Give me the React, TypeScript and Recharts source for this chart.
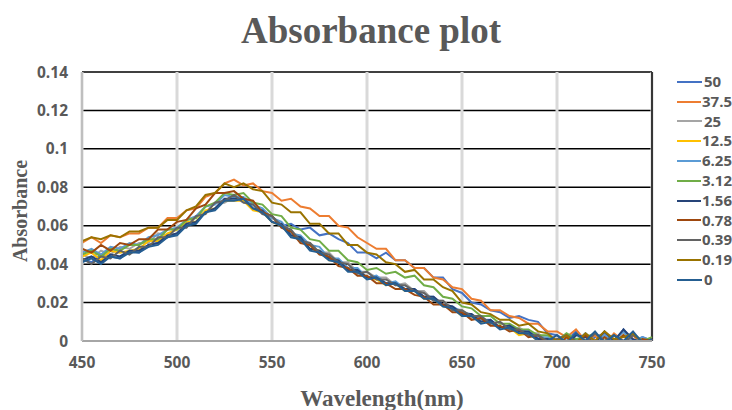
import { LineChart, Line, XAxis, YAxis, CartesianGrid, Legend, ReferenceLine } from "recharts";

const wavelengths = [
  450, 455, 460, 465, 470, 475, 480, 485, 490, 495,
  500, 505, 510, 515, 520, 525, 530, 535, 540, 545,
  550, 555, 560, 565, 570, 575, 580, 585, 590, 595,
  600, 605, 610, 615, 620, 625, 630, 635, 640, 645,
  650, 655, 660, 665, 670, 675, 680, 685, 690, 695,
  700, 705, 710, 715, 720, 725, 730, 735, 740, 745,
  750,
];

const concentrations = ["50", "37.5", "25", "12.5", "6.25", "3.12", "1.56", "0.78", "0.39", "0.19", "0"];
const colors = ["#4472C4", "#ED7D31", "#A5A5A5", "#FFC000", "#5B9BD5", "#70AD47", "#264478", "#9E480E", "#636363", "#997300", "#255E91"];

const s50 = [
  0.043, 0.041, 0.045, 0.044, 0.043, 0.047, 0.046, 0.050, 0.051, 0.054,
  0.056, 0.060, 0.062, 0.067, 0.069, 0.073, 0.076, 0.073, 0.072, 0.067,
  0.065, 0.060, 0.061, 0.058, 0.059, 0.055, 0.056, 0.053, 0.051, 0.046,
  0.046, 0.043, 0.046, 0.042, 0.042, 0.038, 0.038, 0.033, 0.033, 0.027,
  0.025, 0.020, 0.019, 0.016, 0.015, 0.012, 0.013, 0.011, 0.010, 0.004,
  0.003, 0.000, 0.005, -0.002, 0.002, 0.004, -0.001, 0.006, 0.000, 0.002,
  0.000,
];
const s37_5 = [
  0.051, 0.054, 0.051, 0.055, 0.054, 0.056, 0.056, 0.059, 0.059, 0.064,
  0.064, 0.068, 0.069, 0.075, 0.077, 0.082, 0.084, 0.081, 0.082, 0.078,
  0.077, 0.073, 0.074, 0.070, 0.069, 0.065, 0.065, 0.060, 0.059, 0.054,
  0.051, 0.048, 0.048, 0.042, 0.042, 0.038, 0.038, 0.033, 0.032, 0.028,
  0.027, 0.022, 0.021, 0.016, 0.016, 0.013, 0.012, 0.009, 0.009, 0.005,
  0.005, 0.002, 0.006, 0.000, 0.003, -0.002, 0.004, 0.000, 0.003, -0.002,
  0.001,
];
const s25 = [
  0.045, 0.043, 0.047, 0.045, 0.049, 0.048, 0.051, 0.051, 0.056, 0.055,
  0.059, 0.060, 0.065, 0.067, 0.072, 0.072, 0.075, 0.072, 0.071, 0.066,
  0.065, 0.059, 0.057, 0.052, 0.051, 0.046, 0.046, 0.041, 0.041, 0.036,
  0.036, 0.033, 0.033, 0.029, 0.030, 0.026, 0.026, 0.021, 0.021, 0.017,
  0.016, 0.012, 0.013, 0.009, 0.010, 0.006, 0.007, 0.004, 0.004, 0.000,
  -0.002, 0.003, -0.001, 0.004, 0.000, 0.003, -0.001, 0.004, 0.001, -0.001,
  0.001,
];
const s12_5 = [
  0.044, 0.046, 0.042, 0.047, 0.046, 0.047, 0.048, 0.052, 0.052, 0.056,
  0.058, 0.062, 0.062, 0.068, 0.069, 0.073, 0.073, 0.073, 0.068, 0.067,
  0.062, 0.060, 0.055, 0.053, 0.048, 0.047, 0.042, 0.042, 0.037, 0.037,
  0.033, 0.032, 0.029, 0.030, 0.026, 0.026, 0.022, 0.022, 0.018, 0.017,
  0.013, 0.013, 0.010, 0.010, 0.007, 0.007, 0.003, 0.004, 0.000, 0.001,
  -0.003, 0.002, -0.002, 0.003, -0.001, 0.002, -0.002, 0.003, -0.001, 0.001,
  -0.001,
];
const s6_25 = [
  0.046, 0.048, 0.045, 0.049, 0.048, 0.051, 0.050, 0.054, 0.055, 0.058,
  0.059, 0.063, 0.065, 0.070, 0.071, 0.076, 0.075, 0.075, 0.071, 0.069,
  0.064, 0.062, 0.056, 0.055, 0.050, 0.049, 0.043, 0.043, 0.038, 0.038,
  0.033, 0.034, 0.030, 0.031, 0.027, 0.027, 0.023, 0.023, 0.018, 0.018,
  0.015, 0.014, 0.011, 0.011, 0.007, 0.008, 0.005, 0.005, 0.002, 0.002,
  -0.001, 0.003, 0.000, 0.004, -0.001, 0.003, 0.000, 0.005, -0.001, 0.002,
  0.000,
];
const s3_12 = [
  0.045, 0.047, 0.044, 0.048, 0.047, 0.050, 0.050, 0.053, 0.053, 0.058,
  0.058, 0.063, 0.064, 0.070, 0.072, 0.077, 0.076, 0.077, 0.072, 0.071,
  0.066, 0.065, 0.059, 0.058, 0.053, 0.052, 0.047, 0.047, 0.042, 0.041,
  0.037, 0.038, 0.035, 0.036, 0.033, 0.034, 0.029, 0.028, 0.023, 0.022,
  0.018, 0.017, 0.013, 0.013, 0.009, 0.009, 0.006, 0.006, 0.003, 0.003,
  0.000, 0.004, 0.001, 0.002, 0.004, 0.000, 0.003, -0.001, 0.004, 0.000,
  0.002,
];
const s1_56 = [
  0.042, 0.044, 0.041, 0.045, 0.044, 0.047, 0.047, 0.050, 0.051, 0.055,
  0.056, 0.061, 0.062, 0.067, 0.069, 0.074, 0.074, 0.074, 0.069, 0.068,
  0.062, 0.061, 0.055, 0.054, 0.048, 0.047, 0.043, 0.042, 0.037, 0.037,
  0.033, 0.033, 0.030, 0.030, 0.027, 0.027, 0.023, 0.023, 0.019, 0.018,
  0.014, 0.014, 0.010, 0.011, 0.007, 0.008, 0.005, 0.005, 0.001, 0.001,
  0.000, -0.002, 0.003, 0.002, -0.001, 0.005, 0.000, 0.006, 0.001, -0.001,
  0.001,
];
const s0_78 = [
  0.048, 0.046, 0.050, 0.047, 0.051, 0.050, 0.053, 0.053, 0.058, 0.058,
  0.062, 0.063, 0.069, 0.071, 0.077, 0.077, 0.078, 0.074, 0.073, 0.067,
  0.065, 0.059, 0.057, 0.051, 0.050, 0.045, 0.044, 0.039, 0.038, 0.034,
  0.034, 0.030, 0.030, 0.027, 0.027, 0.024, 0.023, 0.019, 0.019, 0.015,
  0.015, 0.011, 0.012, 0.008, 0.008, 0.005, 0.006, 0.002, 0.003, -0.001,
  -0.003, 0.002, -0.001, 0.003, -0.002, 0.002, -0.001, 0.003, -0.002, 0.001,
  0.000,
];
const s0_39 = [
  0.043, 0.040, 0.044, 0.043, 0.047, 0.045, 0.049, 0.049, 0.054, 0.054,
  0.059, 0.059, 0.065, 0.066, 0.072, 0.073, 0.076, 0.072, 0.071, 0.066,
  0.065, 0.060, 0.058, 0.052, 0.051, 0.046, 0.045, 0.041, 0.040, 0.035,
  0.036, 0.032, 0.032, 0.029, 0.029, 0.026, 0.025, 0.021, 0.021, 0.016,
  0.016, 0.013, 0.013, 0.009, 0.010, 0.006, 0.006, 0.003, 0.003, 0.000,
  0.001, 0.003, 0.000, -0.001, 0.004, 0.000, 0.003, -0.001, 0.003, 0.000,
  0.000,
];
const s0_19 = [
  0.052, 0.054, 0.053, 0.055, 0.054, 0.057, 0.057, 0.059, 0.059, 0.063,
  0.063, 0.068, 0.070, 0.076, 0.077, 0.082, 0.080, 0.082, 0.079, 0.078,
  0.072, 0.071, 0.067, 0.067, 0.061, 0.061, 0.056, 0.056, 0.050, 0.050,
  0.046, 0.045, 0.041, 0.040, 0.036, 0.037, 0.032, 0.032, 0.028, 0.026,
  0.020, 0.019, 0.015, 0.014, 0.011, 0.011, 0.008, 0.009, 0.005, 0.004,
  0.000, 0.003, -0.001, 0.004, 0.000, 0.005, 0.001, 0.002, 0.004, -0.001,
  0.001,
];
const s0 = [
  0.041, 0.043, 0.040, 0.044, 0.043, 0.046, 0.046, 0.049, 0.050, 0.054,
  0.055, 0.060, 0.061, 0.067, 0.068, 0.073, 0.073, 0.074, 0.069, 0.067,
  0.062, 0.060, 0.054, 0.053, 0.047, 0.046, 0.042, 0.041, 0.036, 0.036,
  0.032, 0.033, 0.029, 0.030, 0.026, 0.026, 0.022, 0.022, 0.018, 0.017,
  0.013, 0.013, 0.009, 0.010, 0.006, 0.007, 0.004, 0.004, 0.000, 0.000,
  0.003, -0.001, 0.004, 0.000, 0.005, -0.001, 0.003, 0.000, 0.005, -0.001,
  0.001,
];

const seriesValues = [s50, s37_5, s25, s12_5, s6_25, s3_12, s1_56, s0_78, s0_39, s0_19, s0];

const xTicks = [450, 500, 550, 600, 650, 700, 750];
const yTicks = [0, 0.02, 0.04, 0.06, 0.08, 0.1, 0.12, 0.14];

const data = wavelengths.map((wl, i) => {
  const row: Record<string, number> = { wl };
  seriesValues.forEach((vals, k) => {
    row["c" + k] = vals[i];
  });
  return row;
});

const labelColor = "#595959";
const tickFont = { fill: labelColor, fontSize: 15.5, fontWeight: 700, fontFamily: "'Open Sans', sans-serif" };

// keep the legend in series order (recharts sorts it by name otherwise)
function LegendList(props: any) {
  const items = [...(props.payload || [])].sort(
    (a: any, b: any) => concentrations.indexOf(a.value) - concentrations.indexOf(b.value)
  );
  return (
    <div style={{ fontFamily: "'Open Sans', sans-serif", fontWeight: 700, fontSize: 15, color: labelColor }}>
      {items.map((p: any) => (
        <div key={p.value} style={{ height: 19.8, display: "flex", alignItems: "center" }}>
          <svg width={26} height={4} style={{ marginRight: 1 }}>
            <line x1={0} y1={2} x2={25} y2={2} stroke={p.color} strokeWidth={2} />
          </svg>
          <span style={{ lineHeight: "19.8px" }}>{p.value}</span>
        </div>
      ))}
    </div>
  );
}

export default function App() {
  return (
    <div style={{ position: "absolute", left: 0, top: 0, width: 732, height: 410, background: "#fff" }}>
      <LineChart width={732} height={410} data={data} margin={{ top: 72, right: 80, bottom: 39, left: 20 }}>
        <CartesianGrid vertical={false} stroke="#000" strokeWidth={1.5} />
        <CartesianGrid horizontal={false} stroke="#d9d9d9" strokeWidth={3} />
        <XAxis
          dataKey="wl"
          type="number"
          domain={[450, 750]}
          ticks={xTicks}
          tick={tickFont}
          tickLine={false}
          tickSize={6}
          tickMargin={10}
          axisLine={{ stroke: "#a6a6a6", strokeWidth: 2 }}
          height={30}
        />
        <YAxis
          type="number"
          domain={[0, 0.14]}
          ticks={yTicks}
          allowDataOverflow
          tick={tickFont}
          tickFormatter={(v: number) => String(v)}
          tickLine={false}
          tickSize={6}
          tickMargin={8}
          axisLine={{ stroke: "#bfbfbf", strokeWidth: 2 }}
          width={62}
        />
        <ReferenceLine x={750} stroke="#000" strokeWidth={1.5} />
        <Legend
          layout="vertical"
          align="center"
          verticalAlign="middle"
          content={LegendList}
          wrapperStyle={{ left: 677, top: 72, width: 55 }}
        />
        {concentrations.map((c, k) => (
          <Line
            key={c}
            type="linear"
            dataKey={"c" + k}
            name={c}
            stroke={colors[k]}
            strokeWidth={2}
            dot={false}
            activeDot={false}
            isAnimationActive={false}
          />
        ))}
      </LineChart>
      <svg width={732} height={410} style={{ position: "absolute", left: 0, top: 0, pointerEvents: "none" }}>
        <text x={371} y={43} textAnchor="middle" fontFamily="'Liberation Serif', serif" fontWeight={700} fontSize={37} fill={labelColor}>
          Absorbance plot
        </text>
        <text x={382} y={406} textAnchor="middle" fontFamily="'Liberation Serif', serif" fontWeight={700} fontSize={23} fill={labelColor}>
          Wavelength(nm)
        </text>
        <text
          x={0}
          y={0}
          transform="translate(27,211) rotate(-90)"
          textAnchor="middle"
          fontFamily="'Liberation Serif', serif"
          fontWeight={700}
          fontSize={20}
          fill={labelColor}
        >
          Absorbance
        </text>
      </svg>
    </div>
  );
}
